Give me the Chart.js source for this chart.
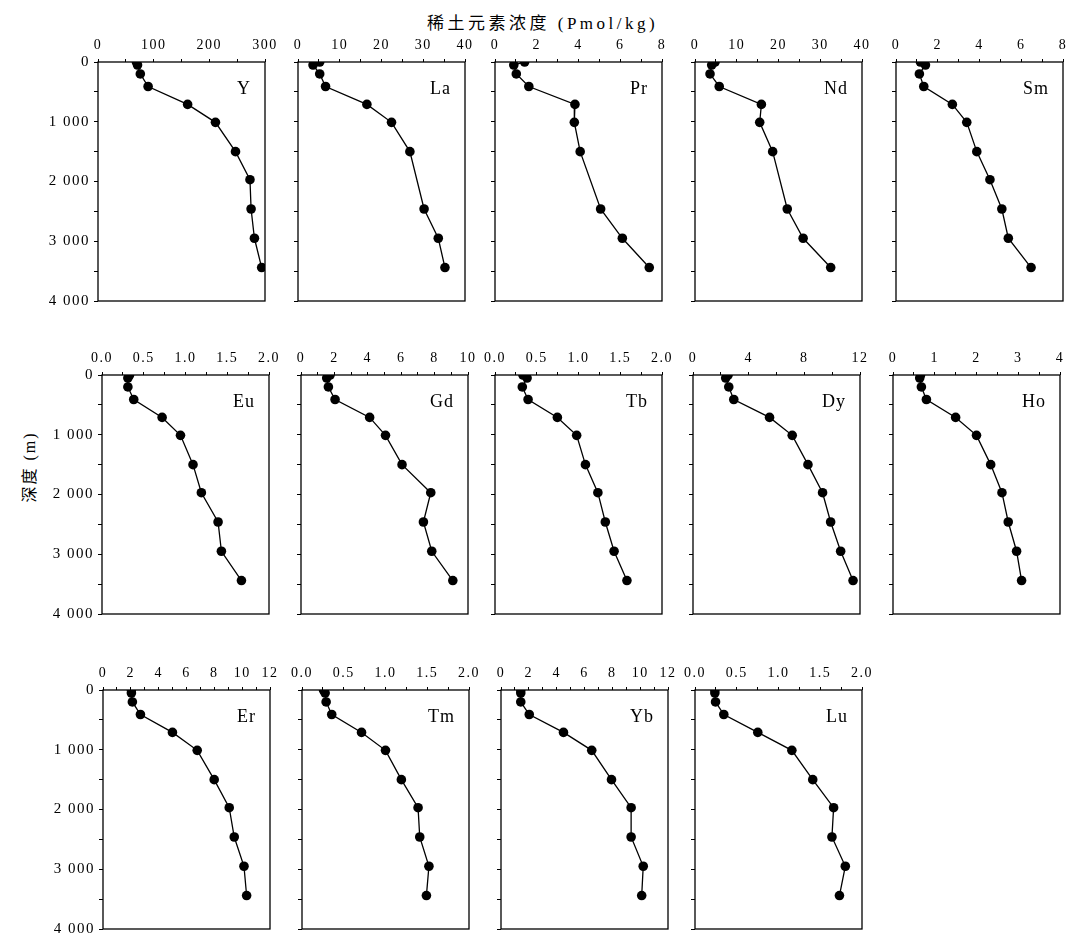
<!DOCTYPE html>
<html>
<head>
<meta charset="utf-8">
<script src="https://cdn.jsdelivr.net/npm/chart.js@4"></script>
<style>
  body { margin: 0; background: #fff; }
  #wrap { position: relative; width: 1070px; height: 935px; overflow: hidden; }
  .panel { position: absolute; }
  #title { position: absolute; left: 427px; top: 9px; font: 17px "Liberation Serif", "Noto Sans CJK SC"; letter-spacing: 3.5px; color: #000; white-space: nowrap; }
  #ytitle { position: absolute; left: 28px; top: 467px; transform: translate(-50%, -50%) rotate(-90deg); font: 16px "Liberation Serif", "Noto Sans CJK SC"; letter-spacing: 2px; color: #000; white-space: nowrap; }
</style>
</head>
<body>
<div id="wrap">
  <div id="title">稀土元素浓度 (Pmol/kg)</div>
  <div id="ytitle">深度 (m)</div>
</div>
<script>
// 深度 (m)
const depths = [0, 50, 200, 410, 710, 1010, 1500, 1970, 2460, 2950, 3440];

const elements = ["Y", "La", "Pr", "Nd", "Sm", "Eu", "Gd", "Tb", "Dy", "Ho", "Er", "Tm", "Yb", "Lu"];

// concentrations per element, same order as depths (null = no sample)
const valY  = [69, 71, 76, 90, 161, 211, 247, 273, 275, 281, 294];
const valLa = [5.2, 3.6, 5.2, 6.6, 16.5, 22.4, 26.8, null, 30.2, 33.6, 35.2];
const valPr = [1.42, 0.9, 1.02, 1.62, 3.83, 3.80, 4.08, null, 5.06, 6.10, 7.39];
const valNd = [4.8, 4.0, 3.6, 5.8, 15.9, 15.5, 18.6, null, 22.1, 25.9, 32.5];
const valSm = [1.17, 1.41, 1.12, 1.33, 2.70, 3.39, 3.87, 4.50, 5.07, 5.38, 6.47];
const valEu = [0.33, 0.31, 0.31, 0.38, 0.72, 0.94, 1.09, 1.19, 1.39, 1.43, 1.67];
const valGd = [1.74, 1.54, 1.64, 2.04, 4.11, 5.06, 6.05, 7.77, 7.33, 7.83, 9.09];
const valTb = [0.335, 0.384, 0.327, 0.396, 0.747, 0.978, 1.083, 1.232, 1.321, 1.426, 1.58];
const valDy = [2.52, 2.35, 2.57, 2.93, 5.50, 7.13, 8.26, 9.31, 9.89, 10.61, 11.50];
const valHo = [0.66, 0.64, 0.68, 0.80, 1.50, 2.00, 2.34, 2.61, 2.76, 2.96, 3.08];
const valEr = [2.04, 2.04, 2.11, 2.69, 4.99, 6.77, 7.99, 9.07, 9.43, 10.13, 10.32];
const valTm = [0.257, 0.277, 0.289, 0.356, 0.713, 1.00, 1.19, 1.39, 1.41, 1.52, 1.49];
const valYb = [1.42, 1.42, 1.42, 2.03, 4.49, 6.52, 7.94, 9.35, 9.35, 10.22, 10.11];
const valLu = [0.238, 0.238, 0.246, 0.345, 0.752, 1.16, 1.41, 1.66, 1.64, 1.80, 1.73];

const values = [valY, valLa, valPr, valNd, valSm, valEu, valGd, valTb, valDy, valHo, valEr, valTm, valYb, valLu];

// x axis range and labelled tick step per panel
const xMax  = [300, 40, 8, 40, 8, 2, 10, 2, 12, 4, 12, 2, 12, 2];
const xStep = [100, 10, 2, 10, 2, 0.5, 2, 0.5, 4, 1, 2, 0.5, 2, 0.5];

// depth axis
const depthMax = 4000;
const depthStep = 500;

// plot area placement (left, top) of each panel
const panelPos = [
  [98, 62], [298, 62], [495, 62], [695, 62], [896, 62],
  [102, 375], [301, 375], [495, 375], [693, 375], [893, 375],
  [103, 690], [302, 690], [501, 690], [695, 690]
];
const plotW = 167, plotH = 240;
const padL = 60, padT = 30, padR = 16, padB = 12;

const serif = "'Liberation Serif', 'DejaVu Serif', serif";

function fmtDepth(v) {
  if (v === 0) return "0";
  return (v / 1000) + " 000";
}

const frame = {
  id: "frame",
  beforeDraw(chart) {
    chart.ctx.letterSpacing = "1.5px";
  },
  afterDraw(chart) {
    const a = chart.chartArea;
    const ctx = chart.ctx;
    ctx.save();
    ctx.letterSpacing = "1px";
    ctx.strokeStyle = "#000";
    ctx.lineWidth = 1.3;
    ctx.strokeRect(a.left, a.top, a.right - a.left, a.bottom - a.top);
    ctx.fillStyle = "#000";
    ctx.font = "18px " + serif;
    ctx.textAlign = "right";
    ctx.textBaseline = "middle";
    ctx.fillText(chart.options.plugins.frame.label, a.right - 14, a.top + 27);
    ctx.restore();
  }
};

const wrap = document.getElementById("wrap");

elements.forEach((el, i) => {
  const [L, T] = panelPos[i];
  const div = document.createElement("div");
  div.className = "panel";
  div.style.left = (L - padL) + "px";
  div.style.top = (T - padT) + "px";
  const cv = document.createElement("canvas");
  cv.width = plotW + padL + padR;
  cv.height = plotH + padT + padB;
  div.appendChild(cv);
  wrap.appendChild(div);

  const firstCol = (i === 0 || i === 5 || i === 10);
  const step = xStep[i];
  const dec = step < 1 ? 1 : 0;

  const pts = depths
    .map((d, k) => ({ x: values[i][k], y: d }))
    .filter((p) => p.x !== null);

  new Chart(cv.getContext("2d"), {
    type: "scatter",
    data: {
      datasets: [{
        data: pts,
        showLine: true,
        borderColor: "#000",
        borderWidth: 1.3,
        pointRadius: 4.8,
        pointBackgroundColor: "#000",
        pointBorderWidth: 0
      }]
    },
    options: {
      responsive: false,
      animation: false,
      devicePixelRatio: 1,
      layout: { padding: { left: 0, top: 0, right: padR, bottom: padB } },
      plugins: {
        legend: { display: false },
        tooltip: { enabled: false },
        frame: { label: el }
      },
      scales: {
        x: {
          type: "linear",
          position: "top",
          min: 0,
          max: xMax[i],
          border: { display: false },
          grid: { drawOnChartArea: false, drawTicks: true, tickLength: 3, color: "#000" },
          ticks: {
            stepSize: step / 2,
            padding: 5,
            color: "#000",
            maxRotation: 0,
            autoSkip: false,
            font: { family: serif, size: 14 },
            callback: (v) => {
              const r = v / step;
              return Math.abs(r - Math.round(r)) < 1e-6 ? Number(v).toFixed(dec) : "";
            }
          },
          afterFit: (s) => { s.height = padT; }
        },
        y: {
          type: "linear",
          reverse: true,
          min: 0,
          max: depthMax,
          border: { display: false },
          grid: { drawOnChartArea: false, drawTicks: true, tickLength: 4, color: "#000" },
          ticks: {
            stepSize: depthStep,
            padding: 4,
            color: "#000",
            autoSkip: false,
            font: { family: serif, size: 15 },
            callback: (v) => (firstCol && v % 1000 === 0 ? fmtDepth(v) : "")
          },
          afterFit: (s) => { s.width = padL; }
        }
      }
    },
    plugins: [frame]
  });
});
</script>
</body>
</html>
